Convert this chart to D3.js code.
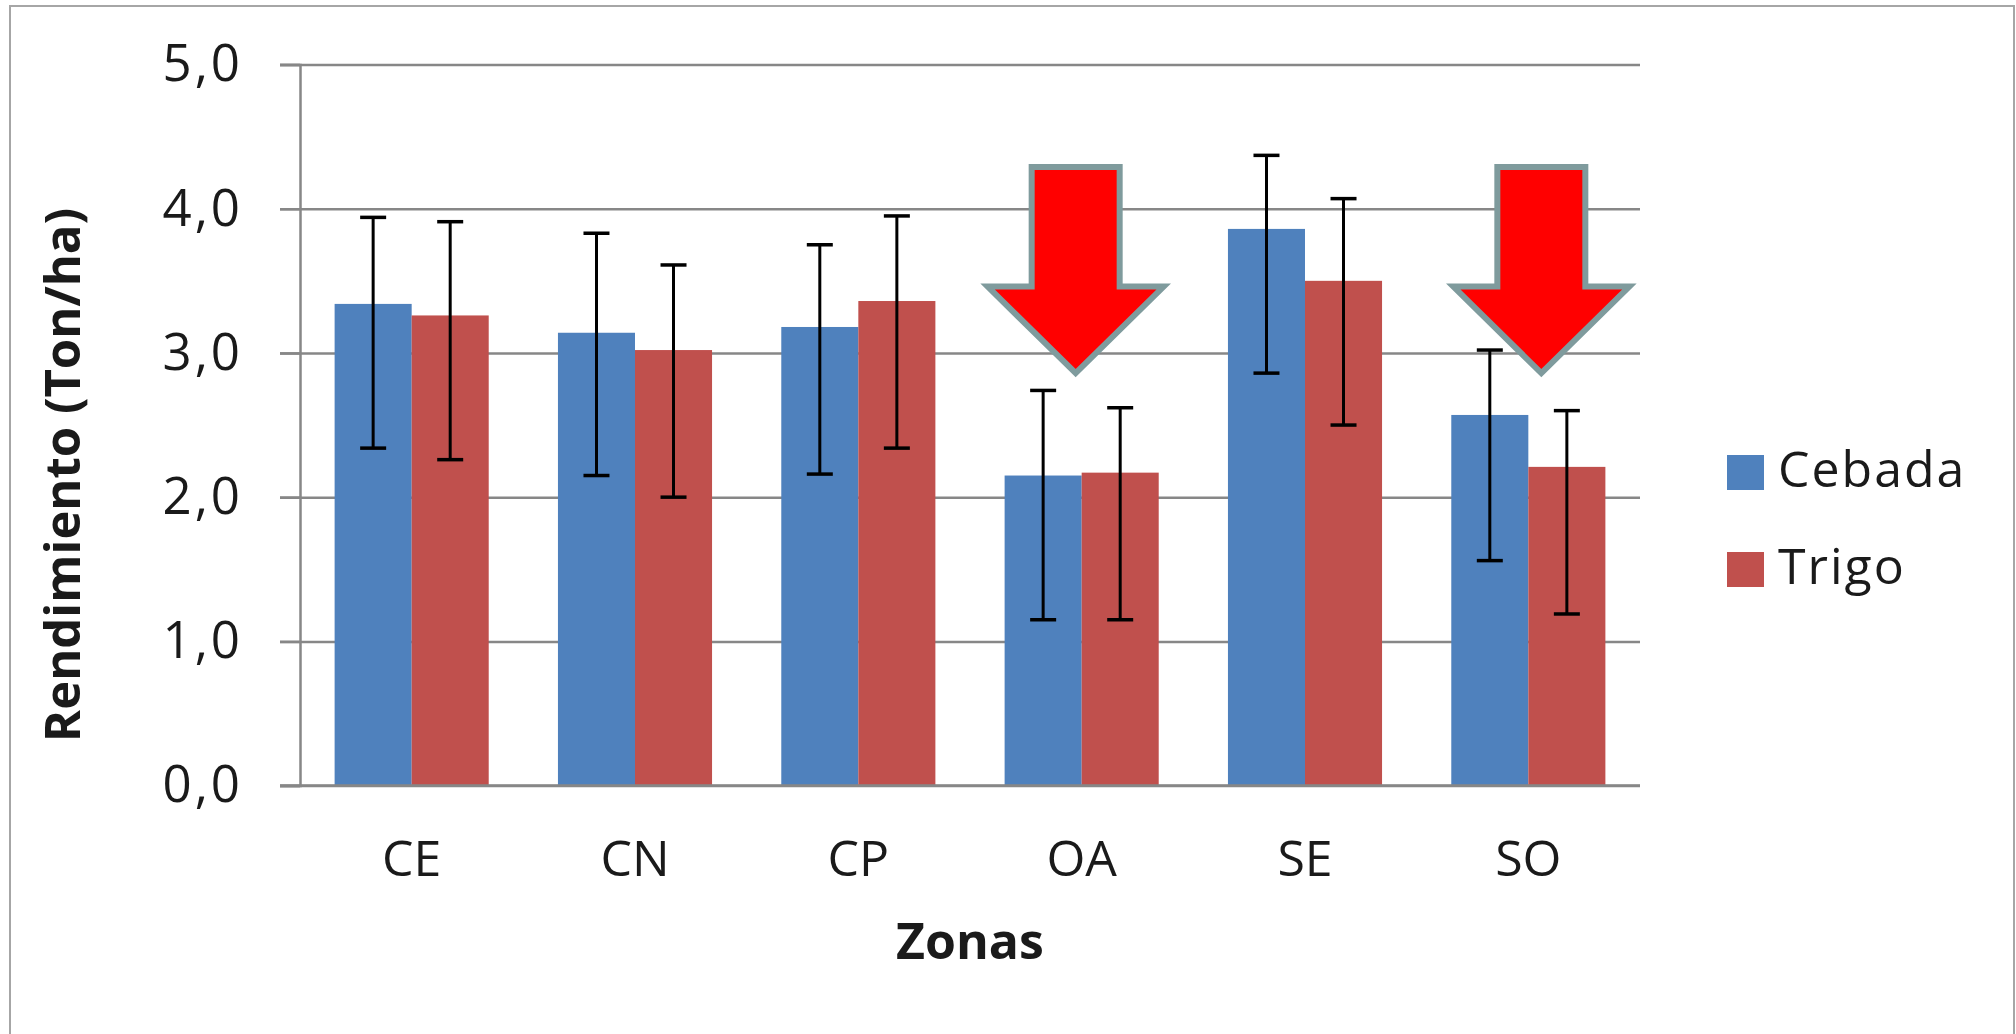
<!DOCTYPE html>
<html>
<head>
<meta charset="utf-8">
<script src="https://cdn.jsdelivr.net/npm/d3@7"></script>
<style>
  html, body { margin: 0; padding: 0; background: #ffffff; }
  svg { display: block; }
  text { font-family: "Open Sans", "Liberation Sans", sans-serif; fill: #1a1a1a; }
</style>
</head>
<body>
<svg id="chart" width="2016" height="1034"></svg>
<script>
// ---- data ----
const zonas = ["CE", "CN", "CP", "OA", "SE", "SO"];
const series = ["Cebada", "Trigo"];
const cebada = [3.34, 3.14, 3.18, 2.15, 3.86, 2.57];
const trigo = [3.26, 3.02, 3.36, 2.17, 3.50, 2.21];
const cebadaLow = [2.34, 2.15, 2.16, 1.15, 2.86, 1.56];
const cebadaHigh = [3.94, 3.83, 3.75, 2.74, 4.37, 3.02];
const trigoLow = [2.26, 2.00, 2.34, 1.15, 2.50, 1.19];
const trigoHigh = [3.91, 3.61, 3.95, 2.62, 4.07, 2.60];
const yTicks = [0, 1, 2, 3, 4, 5];
const yTitle = "Rendimiento (Ton/ha)";
const xTitle = "Zonas";
// annotation arrows (value units on the y axis)
const arrowZonas = ["OA", "SO"];
const arrowTop = 4.29, arrowBase = 3.46, arrowTip = 2.86;

// ---- layout ----
const colors = { "Cebada": "#4F81BD", "Trigo": "#C0504D" };
const plot = { left: 300, right: 1640, top: 64.5, bottom: 785.6 };
const svg = d3.select("#chart");

// chart area border
svg.append("rect").attr("x", 10).attr("y", 6).attr("width", 2004).attr("height", 1100)
  .attr("fill", "#ffffff").attr("stroke", "#a6a6a6").attr("stroke-width", 2);

const y = d3.scaleLinear().domain([0, 5]).range([plot.bottom, plot.top]);
const x0 = d3.scaleBand().domain(zonas).range([plot.left, plot.right]).padding(0);
const groupW = x0.bandwidth() * 0.69;
const x1 = d3.scaleBand().domain(series).range([0, groupW]).padding(0);
const groupOff = (x0.bandwidth() - groupW) / 2;

const rows = zonas.map((z, i) => ({
  zona: z,
  vals: [
    { s: "Cebada", v: cebada[i], lo: cebadaLow[i], hi: cebadaHigh[i] },
    { s: "Trigo", v: trigo[i], lo: trigoLow[i], hi: trigoHigh[i] }
  ]
}));

// gridlines (including outward tick marks)
const grid = svg.append("g").attr("transform", `translate(${plot.right},0)`)
  .call(d3.axisLeft(y).tickValues(yTicks).tickSize(plot.right - plot.left + 20).tickFormat(""));
grid.select(".domain").remove();
grid.selectAll(".tick line").attr("stroke", "#878787").attr("stroke-width", 2.5);

// bars
const groups = svg.append("g").selectAll("g").data(rows).join("g")
  .attr("transform", d => `translate(${x0(d.zona) + groupOff},0)`);
groups.selectAll("rect").data(d => d.vals).join("rect")
  .attr("x", d => x1(d.s))
  .attr("width", x1.bandwidth())
  .attr("y", d => y(d.v))
  .attr("height", d => y(0) - y(d.v))
  .attr("fill", d => colors[d.s]);

// y axis (labels + vertical line)
const fmt = v => d3.format(".1f")(v).replace(".", ",");
const yAxis = svg.append("g").attr("transform", `translate(${plot.left},0)`)
  .call(d3.axisLeft(y).tickValues(yTicks).tickSize(20).tickPadding(37).tickFormat(fmt));
yAxis.select(".domain").attr("stroke", "#878787").attr("stroke-width", 2.5);
yAxis.selectAll(".tick line").attr("stroke", "#878787").attr("stroke-width", 2.5);
yAxis.selectAll(".tick text").attr("font-size", 51).attr("fill", "#262626")
  .attr("font-family", "'Open Sans', sans-serif").attr("letter-spacing", 3);

// baseline
svg.append("line").attr("x1", plot.left - 20).attr("x2", plot.right)
  .attr("y1", y(0)).attr("y2", y(0)).attr("stroke", "#878787").attr("stroke-width", 2.5);

// x axis category labels
const xAxis = svg.append("g").attr("transform", `translate(0,${plot.bottom})`)
  .call(d3.axisBottom(x0).tickSize(0).tickPadding(0));
xAxis.select(".domain").remove();
xAxis.selectAll(".tick text").attr("font-size", 50).attr("dy", 0).attr("y", 90)
  .attr("fill", "#1a1a1a").attr("font-family", "'Open Sans', sans-serif");

// error bars
const eb = groups.selectAll("g.err").data(d => d.vals).join("g").attr("class", "err")
  .attr("transform", d => `translate(${x1(d.s) + x1.bandwidth() / 2},0)`);
eb.append("line").attr("x1", 0).attr("x2", 0).attr("y1", d => y(d.hi)).attr("y2", d => y(d.lo))
  .attr("stroke", "#000").attr("stroke-width", 3);
eb.append("line").attr("x1", -13).attr("x2", 13).attr("y1", d => y(d.hi)).attr("y2", d => y(d.hi))
  .attr("stroke", "#000").attr("stroke-width", 3.5);
eb.append("line").attr("x1", -13).attr("x2", 13).attr("y1", d => y(d.lo)).attr("y2", d => y(d.lo))
  .attr("stroke", "#000").attr("stroke-width", 3.5);

// axis titles
svg.append("text").attr("transform", `translate(80,${(y(0) + y(5)) / 2 + 50}) rotate(-90)`)
  .attr("text-anchor", "middle").attr("font-size", 49).attr("font-weight", "bold").text(yTitle);
svg.append("text").attr("x", (plot.left + plot.right) / 2).attr("y", 959)
  .attr("text-anchor", "middle").attr("font-size", 50).attr("font-weight", "bold").text(xTitle);

// arrows
const arrowOffsets = { "OA": -6, "SO": 13 };
const sw = 44, hw = 88;
svg.append("g").selectAll("path").data(arrowZonas).join("path")
  .attr("d", z => {
    const cx = x0(z) + x0.bandwidth() / 2 + arrowOffsets[z];
    const yt = y(arrowTop), yb = y(arrowBase), yp = y(arrowTip);
    return `M${cx - sw},${yt}L${cx + sw},${yt}L${cx + sw},${yb}L${cx + hw},${yb}L${cx},${yp}L${cx - hw},${yb}L${cx - sw},${yb}Z`;
  })
  .attr("fill", "#FF0000").attr("stroke", "#7F9B9D").attr("stroke-width", 6)
  .attr("stroke-linejoin", "miter");

// legend
const leg = svg.append("g").attr("transform", "translate(1727,455)");
const li = leg.selectAll("g").data(series).join("g")
  .attr("transform", (d, i) => `translate(0,${i * 97})`);
li.append("rect").attr("width", 37).attr("height", 35).attr("fill", d => colors[d]);
li.append("text").attr("x", 51).attr("y", 32).attr("font-size", 50).attr("letter-spacing", 2).text(d => d);
</script>
</body>
</html>
